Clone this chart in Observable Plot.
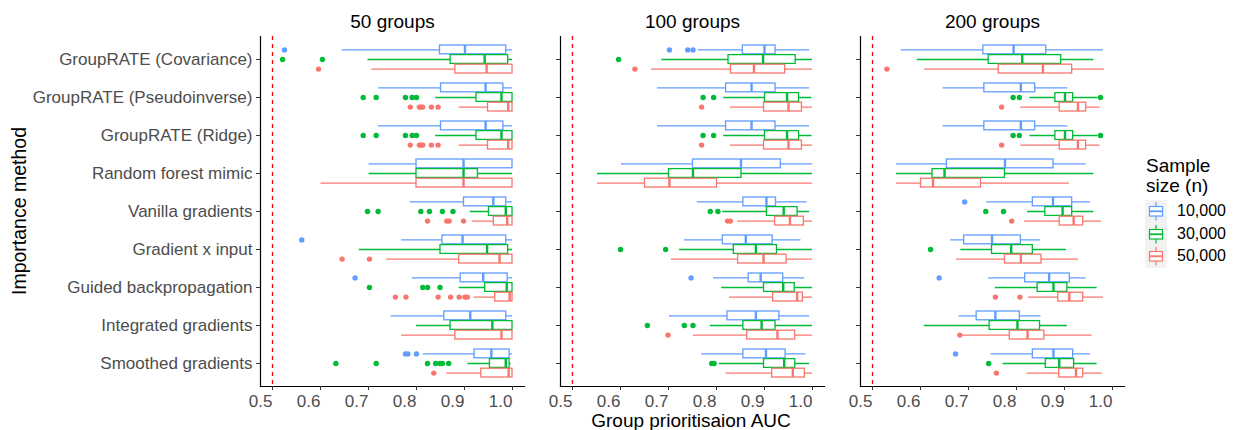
<!DOCTYPE html>
<html><head><meta charset="utf-8">
<script src="https://cdn.jsdelivr.net/npm/d3@7"></script>
<script src="https://cdn.jsdelivr.net/npm/@observablehq/plot@0.6"></script>
<style>
body{margin:0;background:#fff;font-family:"Liberation Sans",Arial,Helvetica,sans-serif;}
#wrap{position:relative;width:1233px;height:430px;overflow:hidden;}
#chart{position:absolute;left:0;top:0;}
.ytitle{position:absolute;left:19px;top:211px;transform:translate(-50%,-50%) rotate(-90deg);font-size:19.5px;color:#000;white-space:nowrap;}
.xtitle{position:absolute;left:691px;top:419.5px;transform:translate(-50%,-50%);font-size:19px;line-height:19px;color:#000;white-space:nowrap;}
#legend{position:absolute;left:1145px;top:156px;}
#legend .lt{font-size:19px;line-height:20px;color:#000;margin-left:1px;}
#legend .keys{position:absolute;left:0;top:44px;}
#legend .row{position:relative;height:22.5px;}
#legend .row span{position:absolute;left:32px;top:2px;font-size:16px;color:#000;}
</style></head><body>
<div id="wrap">
  <div id="chart"></div>
  <div class="ytitle">Importance method</div>
  <div class="xtitle">Group prioritisaion AUC</div>
  <div id="legend"><div class="lt">Sample<br>size (n)</div><div class="keys" id="keys"></div></div>
</div>
<script>
// ---------- data ----------
const groups = ["50 groups", "100 groups", "200 groups"];
const methods = [
  "GroupRATE (Covariance)", "GroupRATE (Pseudoinverse)", "GroupRATE (Ridge)",
  "Random forest mimic", "Vanilla gradients", "Gradient x input",
  "Guided backpropagation", "Integrated gradients", "Smoothed gradients"
];
const sizes = ["10,000", "30,000", "50,000"];
const sizeColors = ["#619CFF", "#00BA38", "#F8766D"];
const xTicks = [0.5, 0.6, 0.7, 0.8, 0.9, 1.0];
const refAUC = [0.5];

// box summaries per method: [lower whisker, Q1, median, Q3, upper whisker] for sizes 10k, 30k, 50k
const box50 = [
  [[0.645,0.849,0.901,0.987,1.0],[0.699,0.871,0.942,0.991,1.0],[0.707,0.881,0.946,1.0,1.0]],
  [[0.721,0.851,0.944,0.981,1.0],[0.840,0.925,0.977,1.0,1.0],[0.889,0.949,0.991,1.0,1.0]],
  [[0.721,0.851,0.944,0.981,1.0],[0.840,0.925,0.977,1.0,1.0],[0.889,0.949,0.991,1.0,1.0]],
  [[0.701,0.800,0.898,1.0,1.0],[0.701,0.800,0.898,0.928,1.0],[0.601,0.800,0.898,1.0,1.0]],
  [[0.787,0.899,0.960,0.987,1.0],[0.912,0.951,0.986,1.0,1.0],[0.916,0.961,0.989,1.0,1.0]],
  [[0.769,0.854,0.896,0.987,1.0],[0.681,0.850,0.947,0.991,1.0],[0.738,0.889,0.973,1.0,1.0]],
  [[0.791,0.892,0.939,0.990,1.0],[0.889,0.943,0.988,1.0,1.0],[0.920,0.964,0.994,1.0,1.0]],
  [[0.747,0.858,0.912,0.987,1.0],[0.800,0.871,0.958,1.0,1.0],[0.769,0.881,0.977,1.0,1.0]],
  [[0.814,0.921,0.956,0.994,1.0],[0.907,0.953,0.986,0.994,0.997],[0.863,0.935,0.992,1.0,1.0]]
];
const box100 = [
  [[0.762,0.855,0.900,0.923,0.994],[0.686,0.825,0.897,0.965,1.0],[0.665,0.830,0.878,0.943,1.0]],
  [[0.677,0.820,0.873,0.923,0.994],[0.815,0.901,0.947,0.972,0.999],[0.829,0.899,0.950,0.978,1.0]],
  [[0.677,0.820,0.873,0.923,0.994],[0.815,0.901,0.947,0.972,0.999],[0.829,0.899,0.950,0.978,1.0]],
  [[0.602,0.751,0.851,0.934,1.0],[0.552,0.701,0.751,0.852,1.0],[0.552,0.651,0.702,0.801,1.0]],
  [[0.760,0.856,0.904,0.924,0.989],[0.813,0.905,0.940,0.969,0.994],[0.844,0.922,0.953,0.982,1.0]],
  [[0.733,0.813,0.861,0.917,0.976],[0.723,0.836,0.882,0.926,1.0],[0.706,0.845,0.898,0.946,1.0]],
  [[0.794,0.867,0.892,0.939,0.984],[0.811,0.899,0.939,0.963,1.0],[0.827,0.918,0.968,0.980,1.0]],
  [[0.702,0.823,0.882,0.931,0.994],[0.787,0.856,0.894,0.923,1.0],[0.752,0.864,0.927,0.964,1.0]],
  [[0.769,0.856,0.903,0.944,0.986],[0.806,0.899,0.941,0.964,0.994],[0.820,0.916,0.959,0.984,1.0]]
];
const box200 = [
  [[0.560,0.731,0.794,0.862,0.981],[0.593,0.742,0.812,0.893,0.961],[0.609,0.763,0.855,0.916,0.983]],
  [[0.647,0.733,0.809,0.839,0.907],[0.828,0.881,0.901,0.918,0.970],[0.809,0.890,0.928,0.945,0.974]],
  [[0.647,0.733,0.809,0.839,0.907],[0.828,0.881,0.901,0.918,0.970],[0.809,0.890,0.928,0.945,0.974]],
  [[0.550,0.655,0.776,0.877,0.945],[0.550,0.625,0.650,0.776,0.961],[0.550,0.601,0.626,0.726,0.910]],
  [[0.738,0.834,0.876,0.916,0.954],[0.823,0.860,0.896,0.916,0.961],[0.817,0.890,0.919,0.939,0.977]],
  [[0.663,0.691,0.749,0.809,0.850],[0.684,0.749,0.789,0.834,0.904],[0.675,0.776,0.809,0.852,0.929]],
  [[0.742,0.818,0.868,0.911,0.945],[0.756,0.844,0.877,0.906,0.968],[0.825,0.887,0.910,0.939,0.981]],
  [[0.680,0.717,0.756,0.807,0.851],[0.608,0.744,0.802,0.849,0.906],[0.688,0.786,0.823,0.858,0.957]],
  [[0.747,0.834,0.877,0.918,0.954],[0.772,0.861,0.889,0.920,0.968],[0.822,0.889,0.924,0.939,0.979]]
];

// outliers per method, for sizes 10k, 30k, 50k
const out50 = [
  [[0.525],[0.521,0.604],[0.596]],
  [[],[0.689,0.716,0.777,0.791,0.800],[0.787,0.806,0.809,0.813,0.831,0.845]],
  [[],[0.689,0.716,0.777,0.791,0.800],[0.787,0.806,0.809,0.813,0.831,0.845]],
  [[],[],[]],
  [[],[0.698,0.720,0.809,0.827,0.854,0.876],[0.823,0.863,0.868,0.898]],
  [[0.561],[],[0.645,0.702]],
  [[0.672],[0.702,0.813,0.823,0.849],[0.756,0.778,0.845,0.871,0.889,0.901,0.906]],
  [[],[],[]],
  [[0.777,0.782,0.800],[0.632,0.716,0.823,0.840,0.849,0.854,0.867],[0.836]]
];
const out100 = [
  [[0.702,0.740,0.751],[0.596],[0.630]],
  [[],[0.772,0.794],[0.769]],
  [[],[0.772,0.794],[0.769]],
  [[],[],[]],
  [[],[0.787,0.803],[0.823,0.829]],
  [[],[0.600,0.694],[]],
  [[0.747],[],[]],
  [[],[0.656,0.733,0.751],[0.699]],
  [[],[0.790,0.795],[]]
];
const out200 = [
  [[],[],[0.530]],
  [[],[0.793,0.806,0.975],[0.769]],
  [[],[0.793,0.806,0.975],[0.769]],
  [[],[],[]],
  [[0.692],[0.736,0.773],[0.790]],
  [[],[0.621],[]],
  [[0.639],[],[0.756,0.807]],
  [[],[],[0.682]],
  [[0.673],[0.742],[0.758]]
];

// ---------- tables ----------
const boxSets = [box50, box100, box200];
const outSets = [out50, out100, out200];
const stats = [], outliers = [];
groups.forEach((g, gi) => methods.forEach((m, mi) => sizes.forEach((s, si) => {
  const [lo, q1, med, q3, hi] = boxSets[gi][mi][si];
  stats.push({group: g, method: m, size: s, lo, q1, med, q3, hi});
  outSets[gi][mi][si].forEach(v => outliers.push({group: g, method: m, size: s, value: v}));
})));

// ---------- marks ----------
const dodge = [-9.6, 0, 9.6];
const inset = 14.6;
const seriesMarks = sizes.flatMap((s, si) => {
  const st = stats.filter(d => d.size === s);
  const ou = outliers.filter(d => d.size === s);
  const c = sizeColors[si], dy = dodge[si];
  return [
    Plot.ruleY(st, {fx: "group", y: "method", x1: "lo", x2: "hi", stroke: c, strokeWidth: 1.4, dy}),
    Plot.barX(st, {fx: "group", y: "method", x1: "q1", x2: "q3", fill: "white", stroke: c, strokeWidth: 1.3, insetTop: inset, insetBottom: inset, dy}),
    Plot.tickX(st, {fx: "group", y: "method", x: "med", stroke: c, strokeWidth: 2.4, insetTop: inset, insetBottom: inset, dy}),
    Plot.dot(ou, {fx: "group", y: "method", x: "value", fill: c, r: 2.7, dy})
  ];
});

const chart = Plot.plot({
  width: 1233, height: 430,
  marginLeft: 259, marginRight: 108, marginTop: 36, marginBottom: 44,
  style: {fontFamily: "'Liberation Sans', Arial, Helvetica, sans-serif", fontSize: "17px", color: "#4d4d4d", background: "#fff", overflow: "visible"},
  fx: {domain: groups, paddingInner: 0.12, paddingOuter: 0, label: null},
  x: {domain: [0.475, 1.025], label: null},
  y: {domain: methods, paddingInner: 0, paddingOuter: 0.1, label: null},
  marks: [
    Plot.ruleX(refAUC, {stroke: "#ff0000", strokeWidth: 1.3, strokeDasharray: "4,4"}),
    ...seriesMarks,
    Plot.frame({anchor: "left", stroke: "#000", strokeWidth: 1.2}),
    Plot.frame({anchor: "bottom", stroke: "#000", strokeWidth: 1.2}),
    Plot.axisFx({anchor: "top", tickSize: 0, tickPadding: 9, label: null, fontSize: 19, color: "#000", fill: "#000"}),
    Plot.axisY({anchor: "left", tickSize: 4, tickPadding: 4, label: null, fontSize: 17, stroke: "#333"}),
    Plot.axisY({anchor: "left", tickSize: 4, tickFormat: () => "", label: null, facetAnchor: null, stroke: "#333"}),
    Plot.axisX({ticks: xTicks, tickSize: 4, tickPadding: 4, tickFormat: d3.format(".1f"), textAnchor: "end", label: null, fontSize: 17, stroke: "#333"})
  ]
});
document.getElementById("chart").appendChild(chart);

// ---------- legend ----------
const keys = document.getElementById("keys");
sizes.forEach((s, i) => {
  const row = document.createElement("div");
  row.className = "row";
  const c = sizeColors[i];
  row.innerHTML = `<svg width="22" height="22.5" style="position:absolute;left:0;top:0;background:#f2f2f2;display:block">
    <line x1="11" x2="11" y1="2" y2="20.5" stroke="${c}" stroke-width="1.2"/>
    <rect x="4.5" y="6.5" width="13" height="9.5" fill="#fff" stroke="${c}" stroke-width="1.2"/>
    <line x1="4.5" x2="17.5" y1="11.25" y2="11.25" stroke="${c}" stroke-width="1.8"/>
  </svg><span>${s}</span>`;
  keys.appendChild(row);
});
</script>
</body></html>
